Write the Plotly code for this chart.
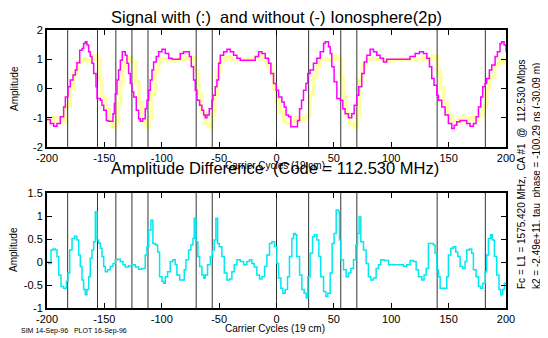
import plotly.graph_objects as go

# ---------------- data ----------------
sig_x = [-200.0, -197.1, -194.2, -191.3, -188.4, -185.5, -184.0, -181.7, -179.7, -177.3, -175.3, -173.9,
         -171.5, -169.5, -168.1, -166.6, -165.2, -163.7, -162.3, -160.8, -159.3, -157.3, -156.4, -153.5,
         -152.1, -150.6, -148.3, -146.3, -144.0, -142.5, -141.3, -140.5, -139.0, -137.6, -136.1, -134.4,
         -131.8, -130.3, -128.9, -127.4, -126.0, -124.5, -122.2, -120.2, -118.7, -116.7, -114.4, -112.9,
         -111.4, -110.0, -108.5, -107.1, -104.8, -102.7, -99.8, -96.9, -94.0, -91.1, -86.8, -83.9, -81.0,
         -78.1, -76.0, -74.3, -72.3, -70.8, -69.3, -67.0, -65.0, -63.5, -62.1, -60.6, -58.6, -56.3, -55.4,
         -53.4, -51.9, -50.5, -49.0, -46.1, -43.2, -40.3, -37.4, -34.5, -31.6, -22.9, -18.5, -15.6, -12.7,
         -9.8, -6.9, -4.9, -2.6, -0.3, 1.8, 4.7, 6.7, 8.4, 10.5, 12.5, 17.2, 18.3, 20.1, 21.8, 23.5, 25.6,
         27.3, 29.3, 32.2, 35.2, 38.1, 41.0, 42.4, 45.3, 46.8, 48.2, 50.2, 52.6, 55.5, 57.8, 59.8, 62.7,
         65.6, 67.7, 70.0, 71.7, 74.3, 76.4, 78.7, 81.6, 84.5, 87.4, 90.3, 93.2, 96.1, 113.5, 116.4, 120.8,
         124.6, 128.0, 131.0, 133.3, 135.3, 137.3, 139.7, 141.1, 144.0, 146.9, 149.8, 152.7, 154.8, 157.1,
         160.0, 162.9, 165.8, 168.7, 171.6, 173.9, 176.0, 178.0, 179.7, 181.8, 183.2, 185.5, 187.6, 190.5,
         192.5, 194.8, 196.3, 198.3, 200.0]
sig_y = [-1.06, -1.2, -1.29, -1.2, -0.97, -0.63, -0.29, 0.06, 0.29, 0.46, 0.63, 0.88,
         1.31, 1.37, 1.54, 1.6, 1.49, 1.26, 1.09, 0.86, 0.51, 0.06, -0.34, -0.4,
         -0.57, -0.74, -1.09, -1.12, -1.12, -0.86, -0.51, -0.19, 0.29, 0.63, 0.97, 1.26,
         1.14, 0.86, 0.51, 0.17, -0.11, -0.29, -0.74, -1.03, -1.12, -1.03, -0.69, -0.4,
         -0.06, 0.29, 0.63, 0.91, 1.09, 1.26, 1.34, 1.2, 1.03, 1.0, 1.0, 1.2, 1.26,
         1.26, 1.09, 0.74, 0.29, -0.06, -0.4, -0.57, -0.74, -0.91, -1.0, -0.91, -0.69, -0.4, -0.23,
         0.06, 0.29, 0.86, 1.14, 1.26, 1.34, 1.26, 1.14, 1.03, 0.97, 0.97, 1.09, 1.26, 1.2,
         1.03, 0.86, 0.51, 0.17, -0.06, -0.29, -0.46, -0.63, -0.91, -0.97, -1.31, -1.31, -1.09, -0.69, -0.4, -0.06, 0.17,
         0.51, 0.63, 0.86, 1.03, 1.26, 1.54, 1.6, 1.43, 1.2, 0.74, 0.23, -0.34, -0.4, -0.69, -0.86, -1.0,
         -0.86, -0.57, -0.23, 0.06, 0.51, 0.91, 1.14, 1.34, 1.26, 1.14, 1.03, 0.91, 1.0, 1.0, 1.09, 1.2,
         1.26, 1.2, 1.03, 0.74, 0.34, 0.11, -0.23, -0.4, -0.63, -0.91, -1.2, -1.37, -1.26, -1.14,
         -1.09, -1.09, -1.2, -1.29, -1.2, -0.97, -0.63, -0.29, 0.06, 0.17, 0.34, 0.63, 0.8, 1.09,
         1.26, 1.54, 1.6, 1.49, 1.26]

iono_x = [-200, -194, -188, -184, -180, -177, -174, -170, -166, -162, -159, -156, -154, -152, -149, -146,
          -143, -140, -138, -136, -134, -131, -128, -126, -123, -120, -117, -114, -111, -109, -106, -103,
          -100, -96, -92, -88, -84, -80, -76, -73, -71, -68, -65, -62, -59, -56, -54, -52, -49, -45, -40,
          -36, -30, -24, -20, -16, -12, -8, -5, -2, 0, 3, 6, 9, 13, 16, 20, 24, 27, 29, 32, 35, 38, 42, 46,
          50, 53, 56, 58, 61, 64, 67, 70, 72, 75, 78, 82, 88, 95, 100, 110, 120, 128, 132, 136, 140, 143,
          146, 149, 152, 156, 160, 164, 168, 172, 176, 180, 183, 186, 190, 194, 198, 200]
iono_y = [-1.1, -1.0, -1.15, -0.6, 0.0, 0.5, 0.9, 1.0, 0.95, 1.0, 1.1, 1.0, 0.3, -0.3, -0.7, -1.1,
          -1.3, -1.2, -0.5, 0.2, 0.8, 1.0, 1.05, 0.9, 0.2, -0.5, -1.1, -1.3, -1.0, -0.2, 0.6, 0.95,
          1.0, 1.0, 0.95, 1.0, 1.0, 1.05, 1.0, 1.05, 0.6, -0.2, -0.8, -1.2, -1.3, -0.9, -0.2, 0.6, 1.0, 1.05, 1.0,
          1.0, 1.0, 1.0, 1.05, 1.1, 1.0, 0.8, 0.5, 0.0, -0.4, -0.8, -1.1, -1.2, -1.1, -1.0, -1.1, -1.0, -0.9, -0.2, 0.4, 0.8, 1.0, 1.0, 1.0,
          1.1, 1.0, 0.4, -0.3, -0.9, -1.2, -1.3, -0.9, 0.3, 0.8, 1.0, 1.0, 1.0, 0.95, 1.0, 1.0, 1.0, 1.05, 1.0, 1.1, 0.6, 0.0,
          -0.5, -0.9, -1.1, -1.15, -1.0, -1.1, -1.0, -1.05, -0.9, -0.6, 0.0, 0.4, 0.8, 1.0, 0.9, 0.8]

diff_x = [-200.0, -198.5, -196.5, -194.8, -192.7, -191.3, -189.8, -187.8, -185.5, -183.1, -181.7, -180.2,
          -178.2, -175.9, -173.9, -172.4, -171.0, -169.5, -168.1, -166.6, -165.2, -163.7, -162.3, -160.8,
          -159.3, -157.9, -156.4, -155.0, -153.5, -152.1, -150.6, -149.2, -147.2, -144.8, -142.5, -140.5,
          -138.4, -136.1, -133.8, -131.8, -128.9, -126.0, -123.1, -120.2, -117.3, -114.4, -112.9, -111.4,
          -109.4, -107.7, -105.6, -103.6, -101.9, -99.8, -98.4, -96.9, -94.9, -92.6, -90.3, -88.2, -86.8,
          -84.4, -82.4, -80.4, -78.9, -76.6, -74.6, -72.8, -71.7, -70.2, -68.5, -67.0, -65.0, -63.5, -62.1,
          -60.1, -57.7, -55.7, -54.3, -52.8, -51.3, -49.9, -47.6, -45.5, -43.2, -40.9, -38.9, -36.8, -34.5,
          -31.6, -28.7, -25.8, -23.5, -21.5, -19.4, -17.1, -14.8, -12.7, -10.4, -8.4, -6.1, -4.0, -1.7, 0.3,
          1.8, 3.8, 5.5, 7.6, 9.6, 11.3, 13.4, 14.8, 16.3, 17.7, 20.1, 22.1, 24.1, 25.9, 27.3, 29.3, 31.4,
          33.1, 35.2, 36.9, 38.6, 41.0, 43.0, 44.7, 46.8, 48.5, 50.2, 52.0, 54.0, 54.9, 56.1, 58.4, 60.7,
          62.7, 64.8, 67.1, 69.1, 70.6, 72.0, 73.5, 75.8, 78.1, 80.1, 82.2, 84.5, 86.8, 88.9, 90.9, 93.8,
          97.6, 107.7, 110.6, 113.5, 116.4, 119.3, 121.7, 123.7, 126.6, 128.6, 130.4, 132.4, 136.8, 138.2,
          139.7, 141.1, 142.6, 146.9, 148.4, 149.8, 151.9, 154.2, 156.2, 158.0, 160.0, 162.3, 164.3, 165.8,
          168.1, 170.1, 171.6, 173.9, 176.0, 178.0, 179.7, 181.8, 183.2, 184.7, 186.7, 188.1, 189.9, 191.9,
          193.9, 195.4, 197.1, 198.6, 200.0]
diff_y = [0.0, -0.03, 0.26, 0.28, 0.26, 0.12, -0.28, -0.53, -0.57, -0.42, -0.24, 0.26,
          0.51, 0.56, 0.48, 0.15, -0.1, -0.39, -0.6, -0.71, -0.6, -0.32, 0.08, 0.26,
          0.44, 1.09, 0.48, 0.41, 0.3, 0.12, -0.1, -0.21, -0.17, -0.1, -0.03, 0.05,
          0.06, 0.01, -0.06, -0.11, -0.08, -0.06, -0.11, -0.16, -0.14, 0.15, 0.33, 0.69,
          0.91, 0.4, 0.37, 0.22, -0.32, -0.42, -0.46, -0.32, -0.21, 0.01, 0.05, -0.06, -0.28,
          -0.39, -0.39, -0.17, 0.05, 0.26, 0.37, 0.51, 0.95, 0.44, 0.12, -0.1, -0.28, -0.35, -0.28,
          -0.06, 0.12, 0.26, 0.48, 0.95, 0.4, 0.33, 0.12, -0.24, -0.39, -0.37, -0.21, -0.06, 0.05,
          0.01, -0.06, 0.01, 0.05, -0.03, -0.11, -0.28, -0.37, -0.32, -0.1, 0.15, 0.4, 0.44, 0.33, -0.03,
          -0.35, -0.57, -0.68, -0.6, -0.32, 0.12, 0.51, 0.62, 0.59, 0.12, -0.28, -0.6, -0.68, -0.78, -0.32, 0.19, 0.55,
          0.59, 0.48, 0.12, -0.32, -0.64, -0.75, -0.68, -0.24, 0.4, 0.62, 1.13, 1.09, 0.48, 0.05, -0.17, -0.32,
          -0.24, -0.14, 0.05, 0.37, 0.62, 0.98, 0.44, 0.26, -0.03, -0.32, -0.39, -0.35, -0.14, -0.06, 0.05, 0.03,
          -0.06, -0.06, -0.09, -0.06, 0.03, 0.01, -0.17, -0.32, -0.39, -0.28, -0.14, 0.4, 0.37, 0.19,
          -0.17, -0.32, -0.57, -0.57, -0.32, 0.15, 0.3, 0.33, 0.22, 0.12, -0.1, -0.14, 0.01, 0.26,
          0.28, 0.19, -0.17, -0.32, -0.53, -0.57, -0.46, -0.21, 0.15, 0.51, 0.59, 0.48, 0.12, -0.28,
          -0.6, -0.71, -0.6, -0.46, -0.46]

marker_x = [-182, -156, -140, -126, -112, -70, -56, 0, 28, 56, 70, 140, 182]

x_ticks = [-200, -150, -100, -50, 0, 50, 100, 150, 200]
x_ticktext = ["-200", "-150", "-100", "-50", "0", "50", "100", "150", "200"]
y1_ticks = [-2, -1, 0, 1, 2]
y1_ticktext = ["-2", "-1", "0", "1", "2"]
y2_ticks = [-1, -0.5, 0, 0.5, 1, 1.5]
y2_ticktext = ["-1", "-0.5", "0", "0.5", "1", "1.5"]

# ---------------- figure ----------------
FONT = "Liberation Sans, Arial, sans-serif"
# the page body has an 8 px margin; the figure fills the rest of the 548x338 window
OFF = 8
W, H = 548 - OFF, 338 - OFF


def px(x):
    return (x - OFF) / W


def py(y):
    return 1 - (y - OFF) / H


fig = go.Figure()

fig.add_trace(go.Scatter(x=iono_x, y=iono_y, mode="lines", line=dict(color="#ffffa6", width=4, shape="hv"),
                         xaxis="x", yaxis="y", hoverinfo="skip"))


def vlines(ymin, ymax):
    xs, ys = [], []
    for v in marker_x:
        xs += [v, v, None]
        ys += [ymin, ymax, None]
    return xs, ys


vx, vy = vlines(-2, 2)
fig.add_trace(go.Scatter(x=vx, y=vy, mode="lines", line=dict(color="#333333", width=1),
                         xaxis="x", yaxis="y", hoverinfo="skip"))
fig.add_trace(go.Scatter(x=sig_x, y=sig_y, mode="lines", line=dict(color="#ff00ff", width=1.5, shape="hv"),
                         xaxis="x", yaxis="y"))

vx2, vy2 = vlines(-1, 1.5)
fig.add_trace(go.Scatter(x=vx2, y=vy2, mode="lines", line=dict(color="#333333", width=1),
                         xaxis="x2", yaxis="y2", hoverinfo="skip"))
fig.add_trace(go.Scatter(x=diff_x, y=diff_y, mode="lines", line=dict(color="#00e8f0", width=1.5, shape="hv"),
                         xaxis="x2", yaxis="y2"))

xdom = [px(47), px(506)]
axis_common = dict(showline=True, linecolor="black", linewidth=2, mirror="allticks", ticks="inside",
                   ticklen=5, tickcolor="black", tickwidth=1, showgrid=False, zeroline=False,
                   automargin=False,
                   tickfont=dict(family=FONT, size=11, color="black"))

fig.update_layout(
    template="none",
    width=W, height=H, autosize=False,
    margin=dict(l=0, r=0, t=0, b=0, pad=0, autoexpand=False),
    paper_bgcolor="white", plot_bgcolor="white",
    showlegend=False,
    font=dict(family=FONT, color="black"),
    xaxis=dict(domain=xdom, range=[-200, 200], tickvals=x_ticks, ticktext=x_ticktext, anchor="y", **axis_common),
    yaxis=dict(domain=[py(147), py(30)], range=[-2, 2], tickvals=y1_ticks, ticktext=y1_ticktext,
               anchor="x", **axis_common),
    xaxis2=dict(domain=xdom, range=[-200, 200], tickvals=x_ticks, ticktext=x_ticktext, anchor="y2", **axis_common),
    yaxis2=dict(domain=[py(308), py(193)], range=[-1, 1.5], tickvals=y2_ticks, ticktext=y2_ticktext,
                anchor="x2", **axis_common),
)


def ann(text, x, y, size, angle=0, xanchor="center", yanchor="middle"):
    fig.add_annotation(text=text, x=px(x), y=py(y), xref="paper", yref="paper",
                       showarrow=False, textangle=angle, xanchor=xanchor, yanchor=yanchor,
                       font=dict(family=FONT, size=size, color="black"))


ann("Signal with (:)  and without (-) Ionosphere(2p)", 276, 16.5, 16.5)
ann("Amplitude Difference  (Code = 112.530 MHz)", 275, 168, 16.5)
ann("Carrier Cycles (19 cm)", 275, 165, 10)
ann("Carrier Cycles (19 cm)", 275, 328, 10)
ann("Amplitude", 14, 89, 10, angle=-90)
ann("Amplitude", 14, 250, 10, angle=-90)
ann("Fc = L1 = 1575.420 MHz,  CA #1  @  112.530 Mbps", 521, 174, 10, angle=-90)
ann("k2 = -2.49e+11, tau_phase = -100.29 ns (-30.09 m)", 537, 176, 10, angle=-90)
ann("SIM 14-Sep-96   PLOT 16-Sep-96", 19, 331, 7, xanchor="left")

fig.write_html("out.html")
